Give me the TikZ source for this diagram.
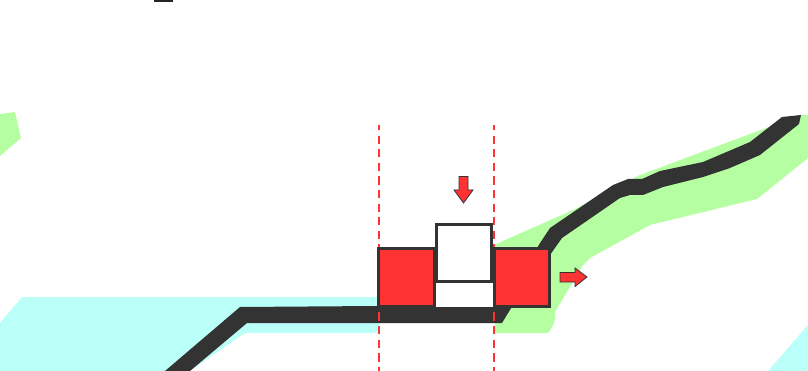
\documentclass[tikz,border=0pt]{standalone}
\definecolor{cy}{HTML}{BBFFF9}
\definecolor{gr}{HTML}{B5FFA2}
\definecolor{rd}{HTML}{FF3333}
\definecolor{dk}{HTML}{333333}
\tikzset{
  cyanarea/.style={fill=cy,draw=none},
  greenarea/.style={fill=gr,draw=none},
  road/.style={fill=dk,draw=none},
  redbox/.style={fill=rd,draw=dk,line width=3pt},
  whitebox/.style={fill=white,draw=dk,line width=3pt},
  guide/.style={draw=rd,line width=2pt,dash pattern=on 8.3pt off 5.3pt,dash phase=3pt},
  redarrow/.style={fill=rd,draw=dk,line width=0.8pt,line join=miter}
}
\begin{document}
\begin{tikzpicture}[x=1pt,y=-1pt]
\useasboundingbox (0,0) rectangle (808,371);
% cyan areas
\fill[cyanarea] (22,297) -- (380,297) -- (380,333) -- (245,333) -- (190,371) -- (0,371) -- (0,323) -- cycle;
\fill[cyanarea] (808,325) -- (808,371) -- (768,371) -- cycle;
% green areas
\fill[greenarea] (0,114) -- (15,112) -- (21,138) -- (0,156) -- cycle;
\fill[greenarea] (494,245) -- (573,210) -- (640,175) -- (801,115) -- (808,115) -- (808,158) -- (757,199) -- (650,225) -- (590,258) -- (583,265) -- (555,312) .. controls (556,322) and (552,328) .. (548,333) -- (495,333) -- cycle;
% road
\fill[road] (165,371) -- (240,307) -- (513,305) -- (502,323) -- (247,323) -- (190,371) -- cycle;
\fill[road] (530,260) -- (540,243) -- (550,228) -- (613,185) -- (628,179) -- (642,179) -- (660,171) -- (703,162) -- (750,142) -- (782,117) -- (801,115) -- (799,124) -- (760,155) -- (730,168) -- (703,177) -- (663,187) -- (643,195) -- (630,195) -- (620,198) -- (562,238) -- (550,255) -- (545,265) -- cycle;
% guides
\draw[guide] (379,125) -- (379,371);
\draw[guide] (494,125) -- (494,371);
% boxes
\node[redbox,minimum width=0pt,inner sep=0pt] (leftbox) at (406,276.5) {};
\fill[white] (434,280) rectangle (493,307);
\draw[redbox] (378.5,248.5) rectangle (434,306);
\draw[redbox] (494.5,248.5) rectangle (549,306);
\draw[whitebox] (436.5,224.5) rectangle (491,281);
% arrows
\draw[redarrow] (459,176.5) -- (468,176.5) -- (468,190) -- (473,190) -- (463.5,203) -- (454,190) -- (459,190) -- cycle;
\draw[redarrow] (560,272.5) -- (575,272.5) -- (575,268) -- (587,277) -- (575,286.5) -- (575,282) -- (560,282) -- cycle;
% top fragment
\fill[black!85] (154,0) rectangle (173,2);
\end{tikzpicture}
\end{document}
